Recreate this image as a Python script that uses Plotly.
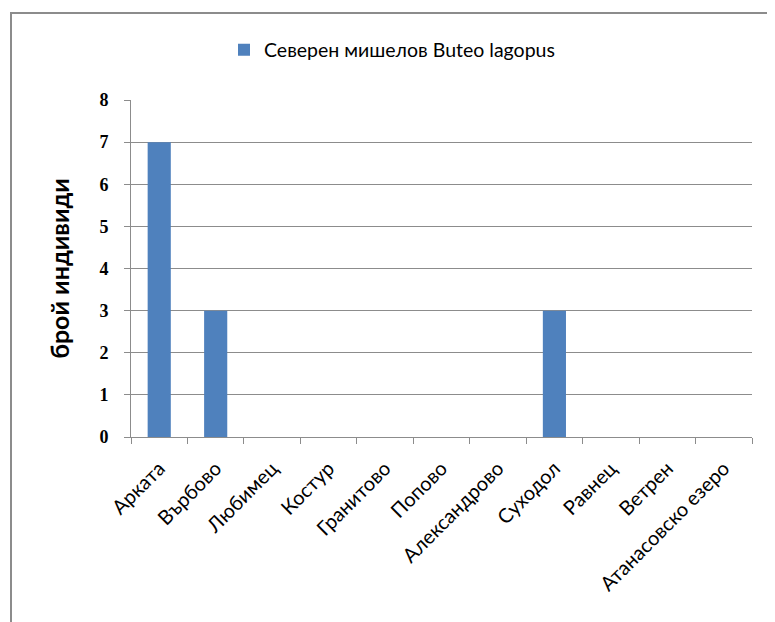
import plotly.graph_objects as go

categories = ["Арката", "Върбово", "Любимец", "Костур", "Гранитово", "Попово",
              "Александрово", "Суходол", "Равнец", "Ветрен", "Атанасовско езеро"]
values = [7, 3, 0, 0, 0, 0, 0, 3, 0, 0, 0]
series_name = "Северен мишелов Buteo lagopus"
y_title = "брой индивиди"
y_ticks = [0, 1, 2, 3, 4, 5, 6, 7, 8]

OFF = 8  # page body margin
W, H = 767, 614
L, R, T, B = 123, 23, 92, 185
pw, ph = W - L - R, H - T - B

def px_x(px):  # page pixel -> paper
    return (px - OFF - L) / pw

def px_y(py):
    return 1 - (py - OFF - T) / ph

fig = go.Figure()
fig.add_trace(go.Bar(x=categories, y=values, name=series_name,
                     marker=dict(color="#4F81BD", line=dict(width=0))))

fig.add_shape(type="rect", xref="paper", yref="paper",
              x0=px_x(11), x1=px_x(820), y0=px_y(680), y1=px_y(13),
              line=dict(color="#8C8C8C", width=2), fillcolor="rgba(0,0,0,0)", layer="below")

fig.update_layout(
    width=W, height=H,
    margin=dict(l=L, r=R, t=T, b=B, pad=0),
    paper_bgcolor="white", plot_bgcolor="white",
    bargap=0.59,
    showlegend=True,
    legend=dict(orientation="h", x=px_x(392), xanchor="center",
                y=px_y(50), yanchor="middle",
                font=dict(family="Lato, Open Sans, sans-serif", size=19.5, color="black"),
                itemwidth=30),
    font=dict(family="Lato, Open Sans, sans-serif", color="black"),
)
fig.update_xaxes(type="category", showgrid=False, showline=True, linecolor="#8C8C8C",
                 linewidth=1, ticks="outside", ticklen=6, tickcolor="#8C8C8C",
                 tickson="boundaries", tickangle=-45, ticklabelstandoff=11,
                 tickfont=dict(family="Lato, Open Sans, sans-serif", size=20, color="black"))
fig.update_yaxes(range=[0, 8], tickvals=y_ticks, showgrid=True, gridcolor="#8C8C8C",
                 gridwidth=1, showline=True, linecolor="#8C8C8C", linewidth=1,
                 ticks="outside", ticklen=6, tickcolor="#8C8C8C", zeroline=False,
                 ticklabelstandoff=12,
                 tickfont=dict(family="Liberation Serif, DejaVu Serif, serif", size=18,
                               color="black", weight="bold"),
                 title=dict(text=y_title, standoff=22,
                            font=dict(family="Lato, sans-serif", size=25,
                                      color="black", weight="bold")))

fig.write_html("out.html")
